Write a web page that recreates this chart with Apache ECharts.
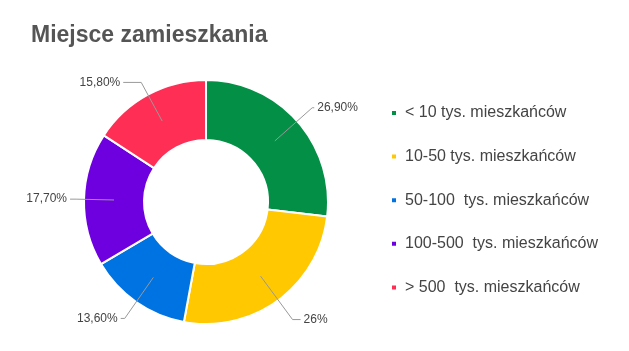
<!DOCTYPE html>
<html>
<head>
<meta charset="utf-8">
<script src="https://cdn.jsdelivr.net/npm/echarts@6/dist/echarts.min.js"></script>
<style>
  html, body { margin: 0; padding: 0; background: #fff; }
  #chart { width: 629px; height: 351px; }
</style>
</head>
<body>
<div id="chart"></div>
<script>
// dane z wykresu
const categories = [
  '< 10 tys. mieszkańców',
  '10-50 tys. mieszkańców',
  '50-100  tys. mieszkańców',
  '100-500  tys. mieszkańców',
  '> 500  tys. mieszkańców'
];
const values = [26.9, 26, 13.6, 17.7, 15.8];
const valueLabels = ['26,90%', '26%', '13,60%', '17,70%', '15,80%'];
const colors = ['#038f45', '#ffc800', '#0073e3', '#6e00e0', '#ff2e55'];

// długości linii etykiet (odcinek skośny, odcinek poziomy) - tylko wygląd
const lineLengths = [[50, 2], [54, 8], [50, 4], [38, 6], [44, 18]];

const chart = echarts.init(document.getElementById('chart'));

const ringData = categories.map((name, i) => ({ name: name, value: values[i] }));
const labelData = categories.map((name, i) => ({
  name: name,
  value: values[i],
  labelLine: { length: lineLengths[i][0], length2: lineLengths[i][1] }
}));

const option = {
  animation: false,
  color: colors,
  title: {
    text: 'Miejsce zamieszkania',
    left: 26,
    top: 19,
    textStyle: {
      fontFamily: 'Liberation Sans, Arial, sans-serif',
      fontSize: 23,
      fontWeight: 'bold',
      color: '#555555'
    }
  },
  legend: {
    orient: 'vertical',
    left: 385,
    top: 100,
    itemWidth: 6,
    itemHeight: 6,
    itemGap: 27.6,
    icon: 'rect',
    selectedMode: false,
    textStyle: {
      fontFamily: 'Liberation Sans, Arial, sans-serif',
      fontSize: 16,
      color: '#444444',
      padding: [0, 0, 0, 3]
    },
    data: categories
  },
  series: [
    {
      // pierścień
      type: 'pie',
      z: 2,
      center: [206, 202],
      radius: [62, 122],
      startAngle: 90,
      silent: true,
      itemStyle: { borderColor: '#ffffff', borderWidth: 2 },
      label: { show: false },
      labelLine: { show: false },
      data: ringData
    },
    {
      // niewidoczna warstwa tylko dla etykiet (linie startują w środku pierścienia)
      type: 'pie',
      z: 5,
      center: [206, 202],
      radius: [0, 92],
      startAngle: 90,
      silent: true,
      itemStyle: { color: 'rgba(0,0,0,0)' },
      label: {
        show: true,
        position: 'outside',
        distanceToLabelLine: 3,
        fontFamily: 'Liberation Sans, Arial, sans-serif',
        fontSize: 12,
        color: '#444444',
        formatter: p => valueLabels[p.dataIndex]
      },
      labelLine: {
        show: true,
        length: 50,
        length2: 6,
        lineStyle: { color: '#999999', width: 1 }
      },
      data: labelData
    }
  ]
};

chart.setOption(option);
</script>
</body>
</html>
